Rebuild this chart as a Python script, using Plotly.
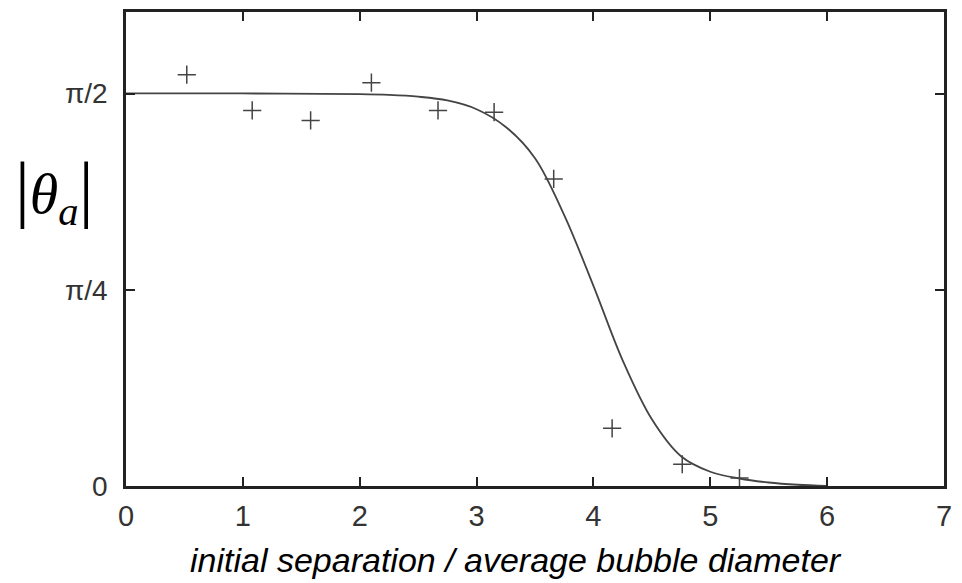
import math
import plotly.graph_objects as go

# measured points (x: separation / diameter, y: |theta_a| in radians)
pts_x = [0.52, 1.08, 1.58, 2.10, 2.67, 3.15, 3.66, 4.16, 4.76, 5.25]
pts_y = [1.646, 1.503, 1.463, 1.614, 1.503, 1.496, 1.229, 0.231, 0.087, 0.032]

# fitted curve
curve_x = [0.0, 1.0, 2.0, 2.25, 2.5, 2.75, 3.0, 3.25, 3.5, 3.75, 4.0, 4.25, 4.5,
           4.75, 5.0, 5.25, 5.5, 5.75, 6.0]
curve_y = [1.571, 1.571, 1.568, 1.565, 1.558, 1.543, 1.508, 1.437, 1.312, 1.084,
           0.801, 0.503, 0.267, 0.119, 0.057, 0.030, 0.014, 0.005, 0.0]

y_tickvals = [0, math.pi / 4, math.pi / 2]
y_ticktext = ["0", "π/4", "π/2"]
x_tickvals = [0, 1, 2, 3, 4, 5, 6, 7]

fig = go.Figure()
fig.add_trace(go.Scatter(x=curve_x, y=curve_y, mode="lines",
                         line=dict(color="#444", width=1.8, shape="spline", smoothing=1.0),
                         showlegend=False, hoverinfo="skip"))
fig.add_trace(go.Scatter(x=pts_x, y=pts_y, mode="markers",
                         marker=dict(symbol="cross-thin", size=13, line=dict(color="#444", width=1.5)),
                         showlegend=False))

axis_common = dict(showline=True, linecolor="#222", linewidth=2.5, mirror="ticks",
                   ticks="inside", tickcolor="#222", tickwidth=2, ticklen=9,
                   showgrid=False, zeroline=False)
fig.update_xaxes(range=[0, 7], tickvals=x_tickvals,
                 tickfont=dict(family="Liberation Sans, Arial", size=29, color="#333"),
                 ticklabelstandoff=2, **axis_common)
fig.update_yaxes(range=[0, 1.897], tickvals=y_tickvals, ticktext=y_ticktext,
                 tickfont=dict(family="Liberation Sans, Arial", size=28, color="#333"),
                 ticklabelstandoff=10, **axis_common)

def px_x(p):
    return (p - 126) / 818

def px_y(p):
    return (486 - p) / 477

serif = "Liberation Serif, Times New Roman"
bar = "<span style='font-size:74px'>|</span>"
fig.add_annotation(xref="paper", yref="paper", x=px_x(54), y=px_y(189),
                   text=bar + "<i>θ</i><sub><i>a</i></sub>" + bar, showarrow=False,
                   font=dict(family=serif, size=58, color="#000"),
                   xanchor="center", yanchor="middle")
fig.add_annotation(xref="paper", yref="paper", x=px_x(516), y=px_y(560),
                   text="<i>initial separation / average bubble diameter</i>", showarrow=False,
                   font=dict(family="Liberation Sans, Arial", size=34, color="#000"),
                   xanchor="center", yanchor="middle")

fig.update_layout(width=962, height=583, margin=dict(l=126, r=18, t=9, b=97),
                  plot_bgcolor="white", paper_bgcolor="white")
fig.write_html("out.html")
